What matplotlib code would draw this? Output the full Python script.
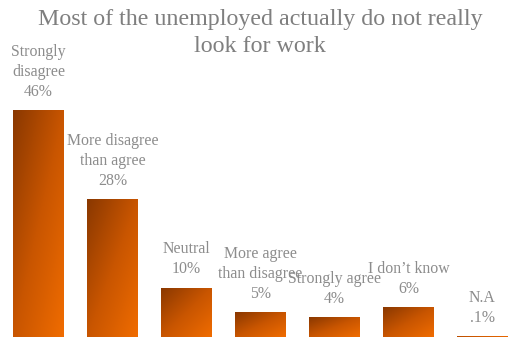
import numpy as np
import matplotlib
matplotlib.use("Agg")
import matplotlib.pyplot as plt
from matplotlib.colors import LinearSegmentedColormap
from matplotlib.patches import Rectangle

# Survey answers and their shares (%)
categories = ["Strongly\ndisagree", "More disagree\nthan agree", "Neutral",
              "More agree\nthan disagree", "Strongly agree", "I don\u2019t know", "N.A"]
values = [46, 28, 10, 5, 4, 6, 0.1]
value_labels = ["46%", "28%", "10%", "5%", "4%", "6%", ".1%"]
title = "Most of the unemployed actually do not really\nlook for work"

plt.rcParams["font.family"] = ["Liberation Serif", "DejaVu Serif"]

fig = plt.figure(figsize=(5.08, 3.39), dpi=100)
ax = fig.add_axes([0, 0, 1, 1])
ax.set_xlim(-0.52, 6.345)
ax.set_ylim(-0.41, 68.4)
ax.axis("off")

cmap = LinearSegmentedColormap.from_list("rust", ["#8a3800", "#c85500", "#f06c00"])
width = 0.676

# diagonal gradient: dark top-left to bright bottom-right
gx, gy = np.meshgrid(np.linspace(0, 1, 64), np.linspace(0, 1, 64))
grad = 0.5 * gx + 0.5 * (1 - gy)

x = np.arange(len(values))
for xi, v, cat, lab in zip(x, values, categories, value_labels):
    left = xi - width / 2
    rect = Rectangle((left, 0), width, v, facecolor="none", edgecolor="none")
    ax.add_patch(rect)
    im = ax.imshow(grad, cmap=cmap, extent=(left, left + width, 0, max(v, 0.25)),
                   origin="lower", aspect="auto", interpolation="bilinear",
                   vmin=0, vmax=1)
    im.set_clip_path(rect)
    ax.annotate(f"{cat}\n{lab}", xy=(xi, v), xytext=(0, 7.5),
                textcoords="offset points", ha="center", va="bottom",
                fontsize=11.4, color="#8c8c8c", linespacing=1.33)

fig.text(0.512, 0.973, title, ha="center", va="top", fontsize=17.3,
         color="#7f7f7f", linespacing=1.37)

fig.savefig("out.png", dpi=100)
